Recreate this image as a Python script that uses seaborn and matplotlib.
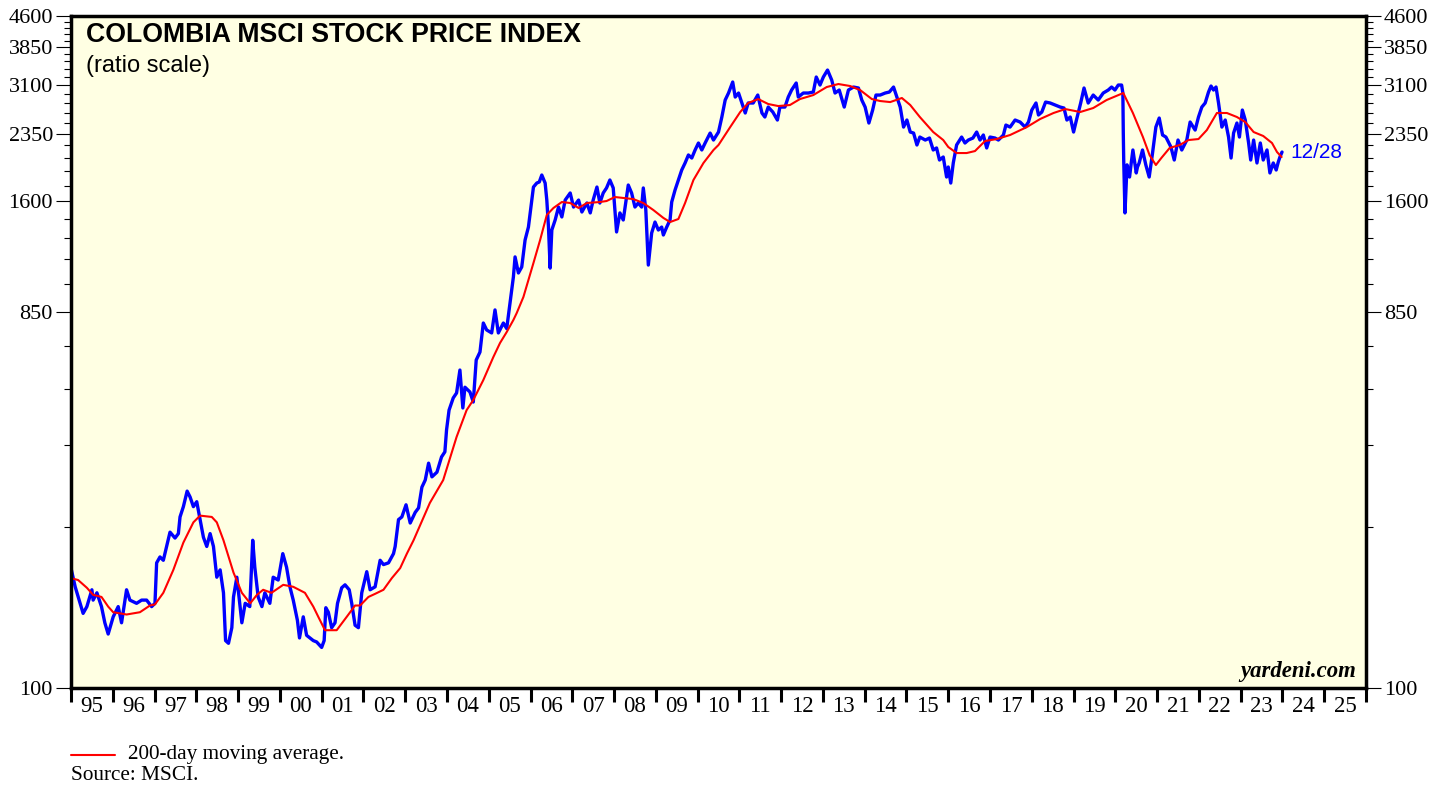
import matplotlib
matplotlib.use("Agg")
import matplotlib.pyplot as plt
import seaborn as sns
from matplotlib.lines import Line2D
from matplotlib.ticker import FixedLocator, NullFormatter, FixedFormatter

# ---- data (index level, ratio scale) ----
years = [
    1995.00, 1995.10, 1995.29, 1995.38, 1995.50, 1995.53, 1995.62, 1995.73, 1995.81, 1995.89,
    1996.01, 1996.13, 1996.21, 1996.33, 1996.41, 1996.57, 1996.69, 1996.81, 1996.93,
    1997.01, 1997.05, 1997.13, 1997.21, 1997.29, 1997.37, 1997.49, 1997.57, 1997.61, 1997.69,
    1997.73, 1997.78, 1997.85, 1997.93,
    1998.01, 1998.09, 1998.17, 1998.25, 1998.33, 1998.41, 1998.49, 1998.57, 1998.65, 1998.70,
    1998.77, 1998.85, 1998.89, 1998.97,
    1999.09, 1999.17, 1999.28, 1999.35, 1999.40, 1999.48, 1999.57, 1999.64, 1999.76, 1999.84, 1999.96,
    2000.07, 2000.16, 2000.24, 2000.32, 2000.42, 2000.47, 2000.56, 2000.64, 2000.72, 2000.80, 2000.88,
    2001.00, 2001.06, 2001.10, 2001.16, 2001.24, 2001.32, 2001.38, 2001.48, 2001.56, 2001.66,
    2001.72, 2001.80, 2001.88, 2001.96,
    2002.08, 2002.16, 2002.28, 2002.40, 2002.48, 2002.60, 2002.72, 2002.76, 2002.84, 2002.92,
    2003.02, 2003.12, 2003.24, 2003.32, 2003.40, 2003.48, 2003.56, 2003.64, 2003.76, 2003.87,
    2003.95, 2003.99,
    2004.05, 2004.15, 2004.23, 2004.31, 2004.38, 2004.43, 2004.55, 2004.63, 2004.70, 2004.79,
    2004.87, 2004.95,
    2005.07, 2005.15, 2005.23, 2005.35, 2005.43, 2005.51, 2005.59, 2005.63, 2005.71, 2005.79,
    2005.87, 2005.95,
    2006.03, 2006.07, 2006.15, 2006.21, 2006.27, 2006.35, 2006.39, 2006.43, 2006.47, 2006.51,
    2006.59, 2006.67, 2006.75, 2006.83, 2006.95,
    2007.03, 2007.15, 2007.23, 2007.35, 2007.43, 2007.50, 2007.59, 2007.66, 2007.74, 2007.82,
    2007.90, 2007.98,
    2008.06, 2008.14, 2008.22, 2008.34, 2008.42, 2008.50, 2008.58, 2008.66, 2008.70, 2008.76,
    2008.82, 2008.90, 2008.98,
    2009.06, 2009.14, 2009.18, 2009.26, 2009.34, 2009.38, 2009.46, 2009.54, 2009.62, 2009.70,
    2009.78, 2009.86, 2009.94,
    2010.02, 2010.10, 2010.18, 2010.30, 2010.38, 2010.50, 2010.58, 2010.66, 2010.74, 2010.84,
    2010.90, 2010.98,
    2011.06, 2011.14, 2011.21, 2011.33, 2011.44, 2011.54, 2011.61, 2011.69, 2011.80, 2011.91, 2011.97,
    2012.09, 2012.17, 2012.25, 2012.36, 2012.41, 2012.53, 2012.65, 2012.77, 2012.84, 2012.93,
    2013.01, 2013.11, 2013.21, 2013.29, 2013.39, 2013.51, 2013.61, 2013.73, 2013.85, 2013.93,
    2014.01, 2014.10, 2014.19, 2014.27, 2014.37, 2014.49, 2014.59, 2014.69, 2014.77, 2014.85, 2014.93,
    2015.01, 2015.09, 2015.17, 2015.25, 2015.32, 2015.45, 2015.55, 2015.64, 2015.72, 2015.79,
    2015.88, 2015.96,
    2016.00, 2016.06, 2016.12, 2016.20, 2016.32, 2016.40, 2016.48, 2016.59, 2016.68, 2016.76,
    2016.84, 2016.92,
    2017.00, 2017.12, 2017.20, 2017.32, 2017.38, 2017.48, 2017.60, 2017.72, 2017.84, 2017.92,
    2018.00, 2018.10, 2018.16, 2018.24, 2018.33, 2018.44, 2018.56, 2018.68, 2018.77, 2018.84, 2018.92,
    2019.00, 2019.08, 2019.17, 2019.25, 2019.35, 2019.47, 2019.59, 2019.71, 2019.83, 2019.91, 2019.99,
    2020.07, 2020.15, 2020.18, 2020.19, 2020.20, 2020.23, 2020.28, 2020.34, 2020.38, 2020.42,
    2020.50, 2020.53, 2020.57, 2020.65, 2020.73, 2020.81, 2020.89, 2020.97,
    2021.05, 2021.13, 2021.21, 2021.33, 2021.41, 2021.50, 2021.59, 2021.71, 2021.79, 2021.91, 2021.99,
    2022.07, 2022.15, 2022.23, 2022.29, 2022.35, 2022.41, 2022.47, 2022.55, 2022.63, 2022.71,
    2022.77, 2022.83, 2022.91, 2022.97,
    2023.04, 2023.11, 2023.19, 2023.24, 2023.31, 2023.39, 2023.47, 2023.54, 2023.63, 2023.70,
    2023.78, 2023.85, 2023.90, 2023.94, 2023.99,
]
msci_index = [
    198, 178, 153, 159, 175, 165, 172, 159, 145, 136,
    150, 159, 145, 175, 165, 162, 165, 165, 159,
    162, 204, 211, 207, 224, 243, 235, 241, 265, 281,
    292, 307, 297, 281,
    289, 261, 236, 224, 241, 224, 188, 196, 172, 131,
    129, 141, 168, 188,
    145, 162, 159, 232, 199, 168, 159, 172, 162, 188, 185,
    215, 199, 178, 165, 147, 133, 150, 135, 133, 131, 130,
    126, 131, 158, 154, 141, 145, 162, 177, 180, 175,
    162, 143, 141, 172,
    194, 175, 178, 207, 202, 204, 215, 224, 261, 265,
    284, 256, 272, 279, 314, 327, 360, 333, 342, 373,
    384, 435,
    487, 522, 537, 612, 493, 555, 540, 510, 648, 678,
    800, 769,
    756, 862, 756, 800, 775, 897, 1040, 1166, 1064, 1101,
    1284, 1382,
    1612, 1736, 1776, 1787, 1859, 1776, 1612, 1382, 1094, 1359,
    1439, 1549, 1464, 1612, 1678,
    1549, 1612, 1506, 1585, 1498, 1612, 1736, 1585, 1678, 1727,
    1807, 1727,
    1344, 1498, 1439, 1756, 1678, 1549, 1585, 1549, 1727, 1523,
    1113, 1336, 1422,
    1359, 1382, 1321, 1382, 1439, 1594, 1707, 1807, 1913, 1991,
    2084, 2048, 2144,
    2231, 2144, 2231, 2361, 2269, 2375, 2587, 2850, 2966, 3158,
    2899, 2966,
    2802, 2647, 2802, 2802, 2932, 2647, 2587, 2738, 2662, 2543, 2738,
    2738, 2899, 3017, 3140, 2899, 2966, 2966, 2983, 3249, 3104,
    3249, 3381, 3194, 2966, 3017, 2738, 3017, 3069, 3052, 2850,
    2738, 2500, 2692, 2932, 2932, 2966, 2983, 3069, 2899, 2738, 2443,
    2543, 2375, 2361, 2206, 2308, 2269, 2295, 2144, 2169, 2025,
    2060, 1838,
    1946, 1776, 1991, 2206, 2308, 2231, 2269, 2295, 2375, 2269,
    2335, 2169,
    2308, 2295, 2269, 2335, 2471, 2443, 2543, 2514, 2443, 2514,
    2692, 2802, 2617, 2662, 2817, 2802, 2770, 2738, 2723, 2543, 2587,
    2375, 2572, 2802, 3052, 2802, 2932, 2850, 2966, 3017, 3069, 3017,
    3104, 3104, 2966, 2361, 2025, 1498, 1970, 1838, 1991, 2144,
    1881, 1946, 1991, 2144, 1968, 1838, 2107, 2443,
    2572, 2335, 2308, 2181, 2025, 2269, 2144, 2269, 2514, 2402, 2587,
    2738, 2802, 2983, 3087, 3017, 3069, 2802, 2443, 2543, 2308,
    2048, 2361, 2500, 2308,
    2692, 2543, 2231, 2025, 2269, 1991, 2231, 2025, 2144, 1881,
    1991, 1913, 2002, 2060, 2119,
]

ma_years = [
    1995.00, 1995.17, 1995.38, 1995.53, 1995.73, 1995.89, 1996.01, 1996.33, 1996.65, 1996.89,
    1997.01, 1997.21, 1997.45, 1997.69, 1997.93, 1998.09, 1998.37, 1998.49, 1998.65, 1998.89,
    1999.09, 1999.29, 1999.45, 1999.60, 1999.80, 2000.08, 2000.32, 2000.60, 2000.80, 2000.92,
    2001.08, 2001.36, 2001.60, 2001.80, 2001.92, 2002.12, 2002.28, 2002.48, 2002.68, 2002.88,
    2003.04, 2003.20, 2003.59, 2003.91, 2004.23, 2004.47, 2004.63, 2004.87, 2005.11, 2005.27,
    2005.43, 2005.59, 2005.67, 2005.83, 2006.07, 2006.23, 2006.39, 2006.55, 2006.75, 2006.95,
    2007.15, 2007.35, 2007.66, 2007.82, 2008.02, 2008.22, 2008.46, 2008.70, 2008.94, 2009.18,
    2009.34, 2009.54, 2009.70, 2009.90, 2010.14, 2010.38, 2010.50, 2010.78, 2011.02, 2011.21,
    2011.45, 2011.69, 2011.93, 2012.21, 2012.45, 2012.77, 2013.09, 2013.37, 2013.65, 2013.89,
    2014.17, 2014.37, 2014.61, 2014.89, 2015.09, 2015.32, 2015.64, 2015.88, 2016.00, 2016.20,
    2016.44, 2016.64, 2016.88, 2017.16, 2017.48, 2017.88, 2018.20, 2018.52, 2018.80, 2019.16,
    2019.47, 2019.79, 2020.19, 2020.42, 2020.66, 2020.82, 2020.97, 2021.10, 2021.30, 2021.54,
    2021.75, 2021.99, 2022.19, 2022.43, 2022.67, 2022.91, 2023.11, 2023.31, 2023.54, 2023.75,
    2023.87, 2023.98,
]
ma_200 = [
    187, 185, 177, 170, 168, 159, 154, 152, 154, 160,
    161, 172, 196, 229, 257, 267, 265, 257, 232, 193,
    172, 162, 170, 175, 172, 180, 178, 172, 159, 150,
    139, 139, 150, 160, 160, 168, 171, 175, 187, 198,
    215, 232, 287, 327, 418, 487, 516, 578, 659, 714,
    760, 814, 847, 928, 1126, 1284, 1481, 1541, 1594, 1585,
    1541, 1585, 1594, 1603, 1640, 1631, 1621, 1585, 1523, 1456,
    1422, 1447, 1585, 1807, 1991, 2144, 2206, 2443, 2662, 2802,
    2866, 2786, 2754, 2770, 2866, 2932, 3069, 3122, 3087, 3017,
    2866, 2834, 2817, 2883, 2770, 2587, 2375, 2269, 2181, 2107,
    2107, 2131, 2256, 2282, 2335, 2443, 2558, 2647, 2707, 2662,
    2723, 2850, 2966, 2647, 2308, 2081, 1968, 2048, 2169, 2206,
    2269, 2282, 2402, 2647, 2647, 2587, 2514, 2375, 2322, 2231,
    2119, 2060,
]

y_major = [100, 850, 1600, 2350, 3100, 3850, 4600]
y_minor = list(range(100, 4601, 150))
year_labels = ["95", "96", "97", "98", "99", "00", "01", "02", "03", "04", "05",
               "06", "07", "08", "09", "10", "11", "12", "13", "14", "15", "16",
               "17", "18", "19", "20", "21", "22", "23", "24", "25"]

sns.set_style("ticks")
plt.rcParams["font.family"] = ["Liberation Sans", "DejaVu Sans"]
plt.rcParams["text.color"] = "black"
plt.rcParams["xtick.color"] = "black"
plt.rcParams["ytick.color"] = "black"
plt.rcParams["xtick.labelcolor"] = "black"
plt.rcParams["ytick.labelcolor"] = "black"
serif = ["Liberation Serif", "DejaVu Serif"]

W, H = 1448, 786
fig = plt.figure(figsize=(W / 100, H / 100), dpi=100)
ax = fig.add_axes([71 / W, 1 - 688 / H, (1366 - 71) / W, (688 - 16) / H])
ax.set_facecolor("#FFFFE3")

sns.lineplot(x=years, y=msci_index, ax=ax, color="#0000FF", linewidth=2.4,
             estimator=None, sort=False)
sns.lineplot(x=ma_years, y=ma_200, ax=ax, color="#FF0000", linewidth=1.5,
             estimator=None, sort=False)

ax.set_yscale("log")
ax.set_ylim(100, 4600)
ax.set_xlim(1995, 2026)
ax.set_xlabel("")
ax.set_ylabel("")

# y axis: ratio scale, labels both sides
ax.yaxis.set_major_locator(FixedLocator(y_major))
ax.yaxis.set_major_formatter(FixedFormatter([str(v) for v in y_major]))
ax.yaxis.set_minor_locator(FixedLocator([v for v in y_minor if v not in y_major]))
ax.yaxis.set_minor_formatter(NullFormatter())
ax.tick_params(axis="y", which="major", direction="out", length=10.5, width=0.8,
               left=True, right=True, labelleft=True, labelright=True, pad=2.5,
               labelsize=16, color="black", labelcolor="black")
ax.tick_params(axis="y", which="minor", direction="out", length=5, width=0.8,
               left=True, right=True, color="black")

# x axis: year boundaries as ticks, labels centred in each year
ax.xaxis.set_major_locator(FixedLocator(list(range(1995, 2027))))
ax.xaxis.set_major_formatter(NullFormatter())
ax.xaxis.set_minor_locator(FixedLocator([y + 0.5 for y in range(1995, 2026)]))
ax.xaxis.set_minor_formatter(FixedFormatter(year_labels))
ax.tick_params(axis="x", which="major", direction="out", length=10, width=2.2,
               bottom=True, top=False, color="black")
ax.tick_params(axis="x", which="minor", length=0, pad=6, labelsize=16.5,
               labelcolor="black")

for lab in ax.get_xticklabels(minor=True) + ax.get_yticklabels():
    lab.set_fontfamily(serif)
for lab in ax.yaxis.get_ticklabels(which="major"):
    lab.set_fontfamily(serif)

for sp in ax.spines.values():
    sp.set_visible(True)
    sp.set_linewidth(2.5)
    sp.set_color("black")

# texts
fig.text(86 / W, 1 - 35 / H, "COLOMBIA MSCI STOCK PRICE INDEX", fontsize=19.2,
         fontweight="bold", va="center", ha="left", color="black")
fig.text(86 / W, 1 - 66 / H, "(ratio scale)", fontsize=17, va="center", ha="left",
         color="black")
fig.text(1290 / W, 1 - 152 / H, "12/28", fontsize=15, color="#0000FF",
         va="center", ha="left")
fig.text(1356 / W, 1 - 672 / H, "yardeni.com", fontsize=16.4, fontweight="bold",
         fontstyle="italic", family=serif, va="center", ha="right", color="black")

fig.add_artist(Line2D([71 / W, 115 / W], [1 - 755 / H, 1 - 755 / H],
                      color="#FF0000", linewidth=1.5))
fig.text(128 / W, 1 - 755 / H, "200-day moving average.", fontsize=15.3,
         family=serif, va="center", ha="left", color="black")
fig.text(71 / W, 1 - 775 / H, "Source: MSCI.", fontsize=15.3, family=serif,
         va="center", ha="left", color="black")

fig.savefig("out.png", dpi=100)
